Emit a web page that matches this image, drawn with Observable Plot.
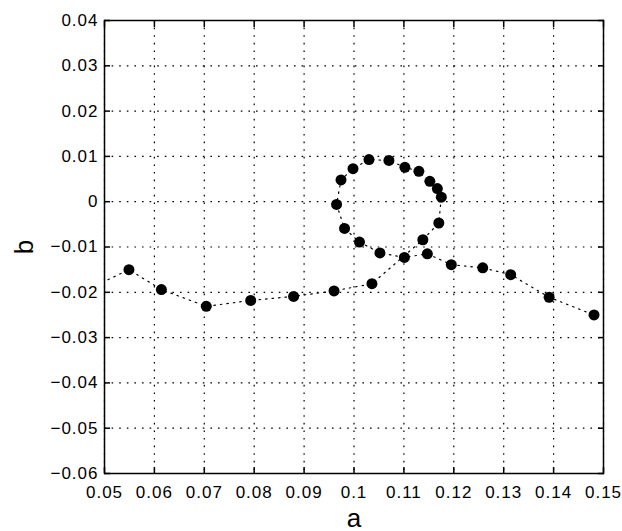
<!DOCTYPE html>
<html>
<head>
<meta charset="utf-8">
<script src="https://cdn.jsdelivr.net/npm/d3@7"></script>
<script src="https://cdn.jsdelivr.net/npm/@observablehq/plot@0.6"></script>
<style>
  html, body { margin: 0; padding: 0; background: #fff; }
</style>
</head>
<body>
<div id="chart"></div>
<script>
const aValues = [0.046, 0.0549, 0.0614, 0.0704, 0.0793, 0.0879, 0.0960, 0.1036,
  0.1138, 0.1170, 0.1175, 0.1167, 0.1152, 0.1130, 0.1102, 0.1070, 0.1030, 0.0998,
  0.0974, 0.0965, 0.0981, 0.1011, 0.1052, 0.1101, 0.1147, 0.1195, 0.1258, 0.1314,
  0.1391, 0.1481];
const bValues = [-0.0197, -0.0150, -0.0194, -0.0231, -0.0218, -0.0209, -0.0197, -0.0181,
  -0.0084, -0.0047, 0.0010, 0.0029, 0.0045, 0.0067, 0.0076, 0.0091, 0.0093, 0.0073,
  0.0048, -0.0006, -0.0059, -0.0089, -0.0113, -0.0123, -0.0115, -0.0139, -0.0146, -0.0161,
  -0.0211, -0.0250];
const xTicks = [0.05, 0.06, 0.07, 0.08, 0.09, 0.1, 0.11, 0.12, 0.13, 0.14, 0.15];
const yTicks = [0.04, 0.03, 0.02, 0.01, 0, -0.01, -0.02, -0.03, -0.04, -0.05, -0.06];
const xLabel = "a";
const yLabel = "b";

const data = aValues.map((a, i) => ({a, b: bValues[i]}));
const fmt = d3.format("~g");
const black = "#000";

const chart = Plot.plot({
  width: 622,
  height: 531,
  marginLeft: 104,
  marginRight: 19,
  marginTop: 20,
  marginBottom: 58,
  style: {fontFamily: "'Liberation Sans', Arial, sans-serif", fontSize: "17px", letterSpacing: "1px", background: "#fff", color: black},
  x: {domain: [0.05, 0.15]},
  y: {domain: [-0.06, 0.04]},
  marks: [
    Plot.gridX(xTicks, {stroke: black, strokeOpacity: 1, strokeWidth: 1.2, strokeDasharray: "1.6,6"}),
    Plot.gridY(yTicks, {stroke: black, strokeOpacity: 1, strokeWidth: 1.2, strokeDasharray: "1.6,6"}),
    Plot.line(data, {x: "a", y: "b", stroke: black, strokeWidth: 1.2, strokeDasharray: "1.5,5", clip: true}),
    Plot.dot(data, {x: "a", y: "b", r: 5.5, fill: black, stroke: "none", clip: true}),
    Plot.frame({stroke: black, strokeWidth: 1.5}),
    Plot.axisX(xTicks, {anchor: "bottom", tickSize: -6, tickPadding: 18, strokeWidth: 1.5, tickFormat: fmt, label: xLabel, labelArrow: "none", labelAnchor: "center", labelOffset: 53, fontSize: 17, stroke: black}),
    Plot.axisX(xTicks, {anchor: "top", tickSize: -6, strokeWidth: 1.5, tickFormat: () => "", label: null, stroke: black}),
    Plot.axisY(yTicks, {anchor: "left", tickSize: -6, tickPadding: 12, strokeWidth: 1.5, tickFormat: fmt, label: yLabel, labelArrow: "none", labelAnchor: "center", labelOffset: 90, fontSize: 17, stroke: black}),
    Plot.axisY(yTicks, {anchor: "right", tickSize: -6, strokeWidth: 1.5, tickFormat: () => "", label: null, stroke: black})
  ]
});
document.getElementById("chart").appendChild(chart);
// enlarge axis titles
chart.querySelectorAll("g[aria-label='x-axis label'] text, g[aria-label='y-axis label'] text").forEach(t => {
  t.style.fontSize = "26px";
  t.style.letterSpacing = "0px";
});
</script>
</body>
</html>
